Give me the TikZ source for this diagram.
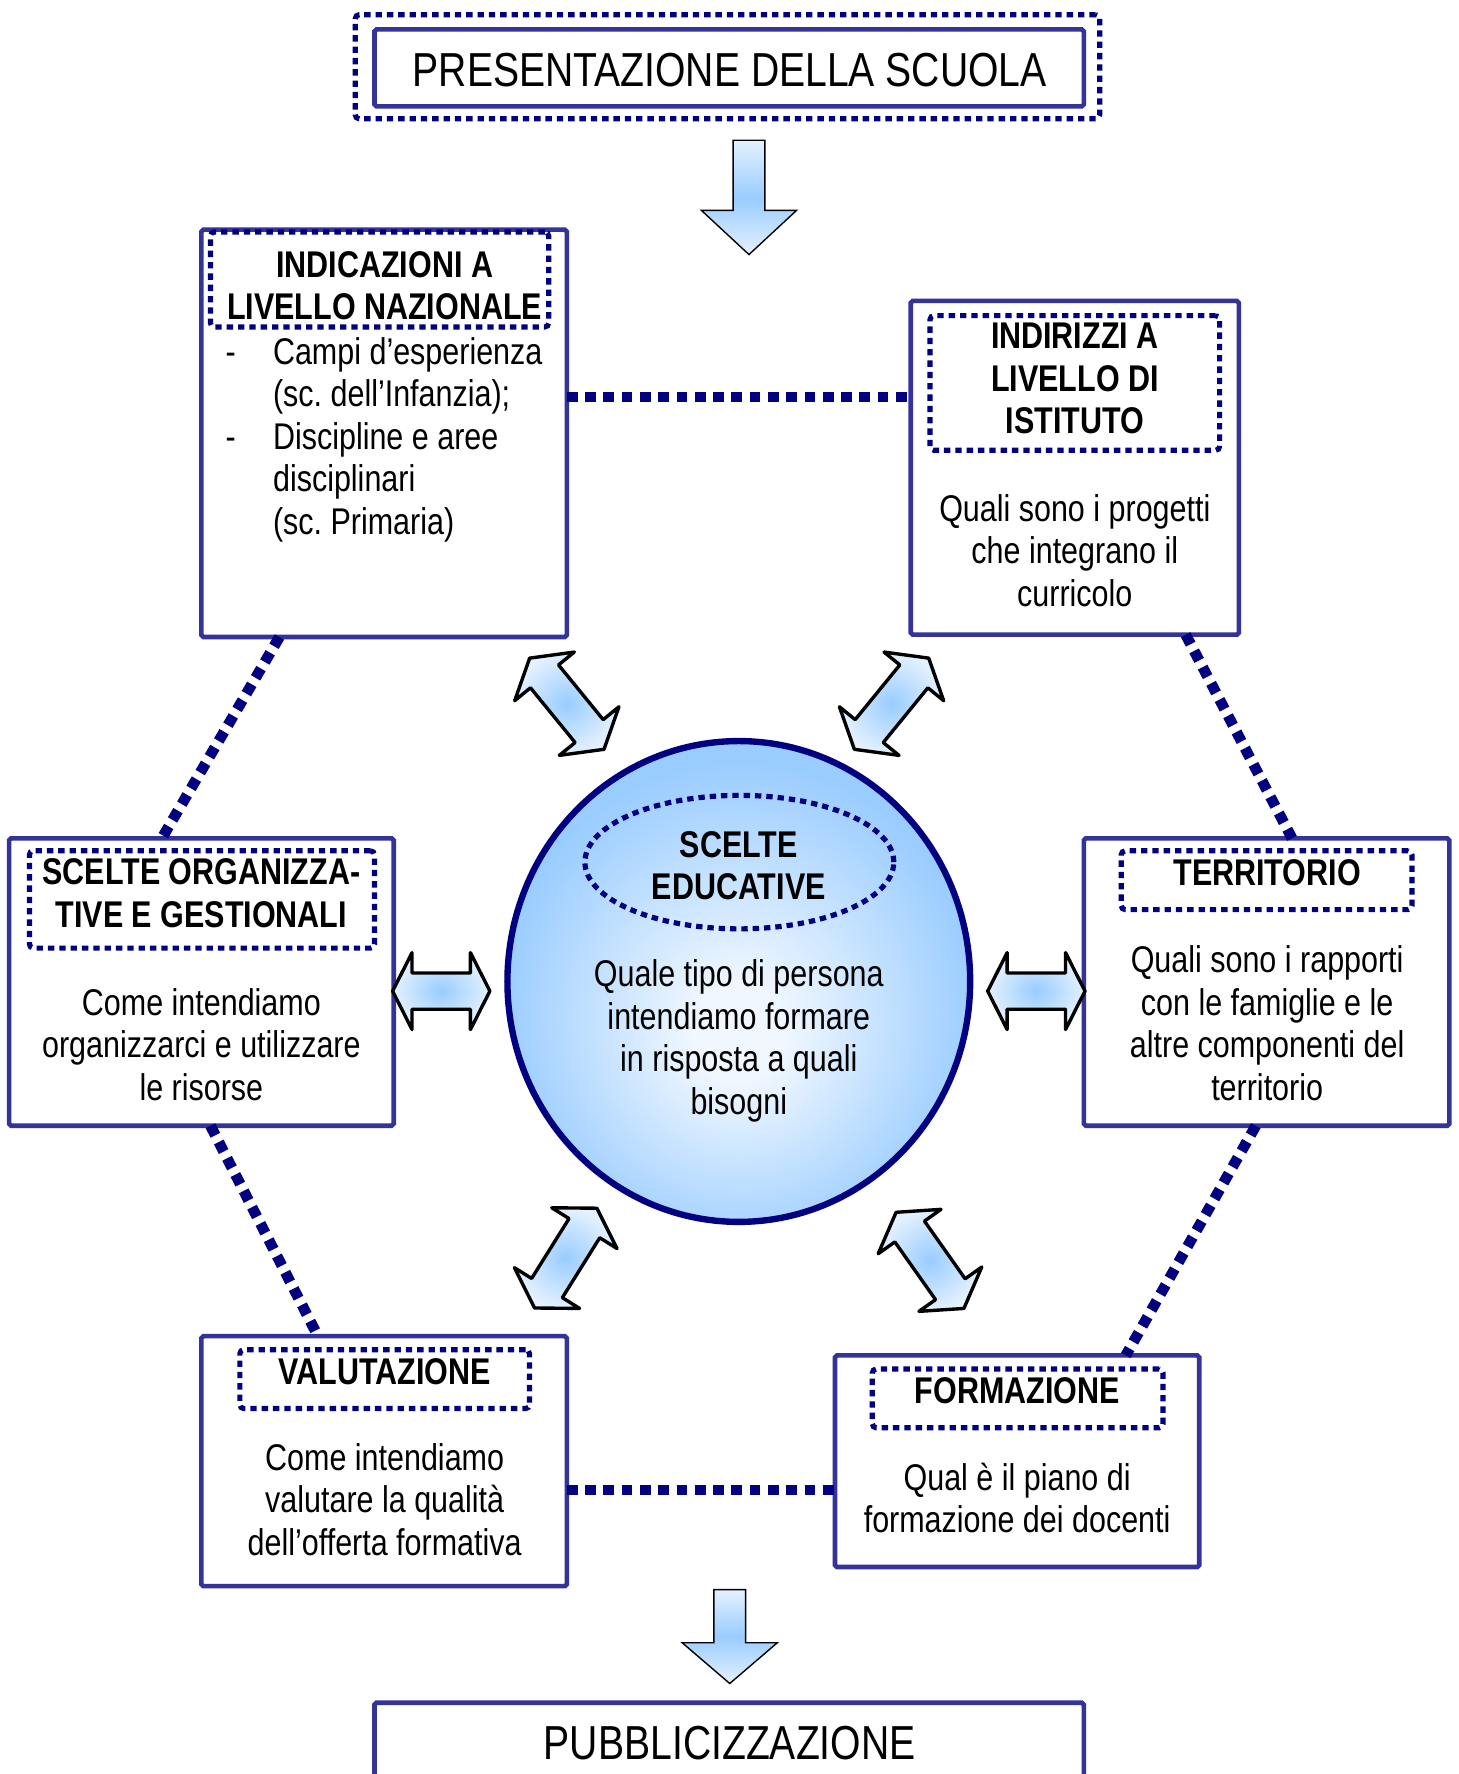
\documentclass[tikz,border=0pt]{standalone}
\usepackage{fontspec}
\setmainfont{Liberation Sans}[FakeStretch=0.82]
\usetikzlibrary{shapes.geometric,calc}
\definecolor{boxblue}{HTML}{333399}
\definecolor{navy}{HTML}{000080}
\definecolor{arrblue}{HTML}{99CCFF}
\definecolor{arrpale}{HTML}{E4F1FF}
\definecolor{ballin}{HTML}{F0F7FF}
\pgfdeclareradialshading{ballshade}{\pgfpoint{0bp}{-6bp}}{color(0bp)=(ballin); color(5bp)=(ballin); color(26bp)=(arrblue); color(50bp)=(arrblue)}
\newcommand{\bodyfont}{\fontsize{18.7}{21.4}\selectfont}
\newcommand{\bigfont}{\fontsize{24}{28}\selectfont}
% double block arrow: centre x, centre y, rotation, length
\newcommand{\dblarrowshape}[4]{%
  \begin{scope}[shift={(#1,#2)}, rotate=#3]
    \draw[dblarr] (-#4/2,0) -- (-#4/2+0.2*#4,34) -- (-#4/2+0.2*#4,16) -- (#4/2-0.2*#4,16)
      -- (#4/2-0.2*#4,34) -- (#4/2,0) -- (#4/2-0.2*#4,-34) -- (#4/2-0.2*#4,-16)
      -- (-#4/2+0.2*#4,-16) -- (-#4/2+0.2*#4,-34) -- cycle;
  \end{scope}}
\tikzset{
  sz/.style 2 args={minimum width=#1*0.02cm, minimum height=#2*0.02cm},
  solidbox/.style={rectangle, draw=boxblue, line width=2.3pt, fill=white, inner sep=0pt, outer sep=0pt, rounded corners=1pt},
  dotline/.style={draw=navy, line width=2.6pt, dash pattern=on 3.2pt off 2.5pt, inner sep=0pt, outer sep=0pt},
  dotbox/.style={rectangle, dotline, rounded corners=2pt},
  conn/.style={draw=navy, line width=5.4pt, dash pattern=on 5.4pt off 3.8pt},
  body/.style={font=\bodyfont, align=center, inner sep=0pt},
  ttl/.style={font=\bodyfont\bfseries, align=center, inner sep=0pt},
  dblarr/.style={draw=black, line width=1.7pt, line join=round, inner color=arrblue, outer color=arrpale},
  downarr/.style={draw=black, line width=0.7pt, line join=miter, top color=arrpale, bottom color=arrpale, middle color=arrblue}
}
\begin{document}
\frenchspacing
\begin{tikzpicture}[x=0.02cm, y=-0.02cm]
\useasboundingbox (0,0) rectangle (1289,1568);
\clip (0,0) rectangle (1289,1568);

% boxes
\node[dotbox, sz={658}{92}] (topo) at (643,59) {};
\node[solidbox, sz={627}{68}] (top) at (644.5,60) {};
\node[solidbox, sz={323}{360}] (ind) at (339.5,383) {};
\node[solidbox, sz={290}{295}] (ir) at (950,413.5) {};
\node[solidbox, sz={340}{254}] (org) at (178,868) {};
\node[solidbox, sz={323}{254}] (ter) at (1119.5,868) {};
\node[solidbox, sz={323}{221}] (val) at (339.5,1291.5) {};
\node[solidbox, sz={322}{187}] (form) at (899,1291.5) {};
\node[solidbox, sz={627}{90}] (pub) at (644.5,1550) {};

% dotted connectors
\draw[conn] ($(ind.north east)+(0,148)$) -- ($(ir.north west)+(0,85)$);
\draw[conn] ($(ind.south west)+(69,0)$) -- ($(org.north west)+(135,0)$);
\draw[conn] ($(ir.south west)+(243,0)$) -- ($(ter.north west)+(184,0)$);
\draw[conn] ($(org.south west)+(178,0)$) -- ($(val.north west)+(103,0)$);
\draw[conn] ($(ter.south west)+(152,0)$) -- ($(form.north west)+(257,0)$);
\draw[conn] ($(val.north east)+(0,136)$) -- ($(form.north west)+(0,119)$);

% title frames
\node[dotbox, sz={299}{84}] (indd) at (335.5,247) {};
\node[dotbox, sz={256}{119}] (ird) at (950,338.5) {};
\node[dotbox, sz={305}{86}] (orgd) at (178.5,795) {};
\node[dotbox, sz={257}{52}] (terd) at (1119.5,778) {};
\node[dotbox, sz={256}{52}] (vald) at (340,1219) {};
\node[dotbox, sz={257}{52}] (formd) at (899.5,1236) {};

% central ball
\node[ellipse, draw=navy, line width=3.2pt, sz={409}{425}, inner sep=0pt, shade, shading=ballshade] (ball) at (653,867.5) {};
\node[dotline, ellipse, sz={273}{118}] (balld) at (653.5,762) {};

% texts
\node[font=\bigfont, inner sep=0pt] (toptext) at (645,61.5) {PRESENTAZIONE DELLA SCUOLA};
\node[ttl] (indt) at (340,252.5) {INDICAZIONI A\\LIVELLO NAZIONALE};
\node[body, align=left, anchor=west] (indb) at (241,388.5) {\llap{-\hspace{0.66cm}}Campi d’esperienza\\(sc. dell’Infanzia);\\\llap{-\hspace{0.66cm}}Discipline e aree\\disciplinari\\(sc. Primaria)};
\node[ttl] (irt) at (950,334.5) {INDIRIZZI A\\LIVELLO DI\\ISTITUTO};
\node[body] (irb) at (950,486.5) {Quali sono i progetti\\che integrano il\\curricolo};
\node[ttl] (balt) at (653,765) {SCELTE\\EDUCATIVE};
\node[body] (balb) at (653,920) {Quale tipo di persona\\intendiamo formare\\in risposta a quali\\bisogni};
\node[ttl] (orgt) at (178,789.5) {SCELTE ORGANIZZA-\\TIVE E GESTIONALI};
\node[body] (orgb) at (178,923) {Come intendiamo\\organizzarci e utilizzare\\le risorse};
\node[ttl] (tert) at (1120,771) {TERRITORIO};
\node[body] (terb) at (1120,904.5) {Quali sono i rapporti\\con le famiglie e le\\altre componenti del\\territorio};
\node[ttl] (valt) at (340,1212) {VALUTAZIONE};
\node[body] (valb) at (340,1325.5) {Come intendiamo\\valutare la qualità\\dell’offerta formativa};
\node[ttl] (formt) at (899,1229) {FORMAZIONE};
\node[body] (formb) at (899,1324) {Qual è il piano di\\formazione dei docenti};
\node[font=\bigfont, inner sep=0pt] (pubt) at (645,1541) {PUBBLICIZZAZIONE};

% down arrows
\draw[downarr] (648,124) -- (676,124) -- (676,186) -- (704,186) -- (662,225) -- (620,186) -- (648,186) -- cycle;
\draw[downarr] (631,1405) -- (659,1405) -- (659,1452) -- (687,1452) -- (645,1488) -- (603,1452) -- (631,1452) -- cycle;

% double arrows
\dblarrowshape{501}{622}{-50.8}{104}
\dblarrowshape{788}{622}{50.8}{104}
\dblarrowshape{500}{1112}{58}{104}
\dblarrowshape{822}{1114}{-54.8}{104}
\dblarrowshape{390}{876}{0}{86}
\dblarrowshape{916}{876}{0}{86}
\end{tikzpicture}
\end{document}
